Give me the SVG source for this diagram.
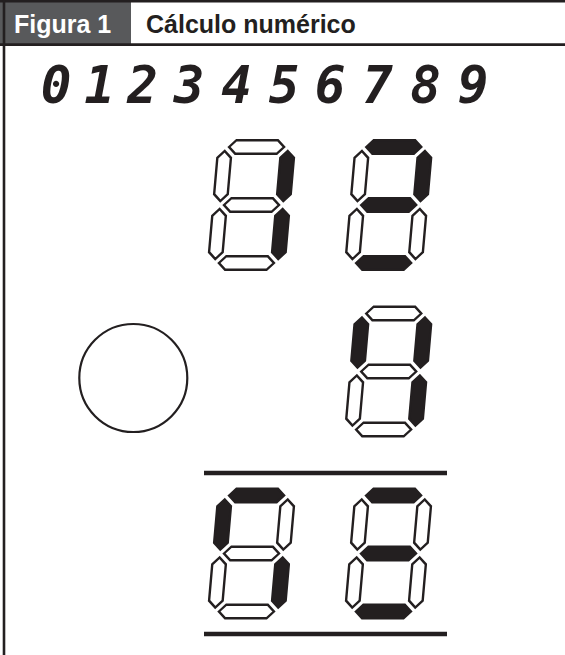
<svg xmlns="http://www.w3.org/2000/svg" xmlns:xlink="http://www.w3.org/1999/xlink" width="565" height="655" viewBox="0 0 565 655">
<style>
.seg{stroke:#231f20;stroke-width:2.4;stroke-linejoin:miter}
.on{fill:#231f20}
.off{fill:#ffffff}
.hd{font-family:"Liberation Sans",Arial,sans-serif;font-weight:bold;font-size:25px}
.dg{font-family:"DejaVu Sans Mono","Liberation Mono",monospace;font-weight:bold;font-style:italic;font-size:51px;fill:#231f20;text-anchor:middle}
.rule{stroke:#231f20;stroke-width:4.5}
</style>
<defs>
<polygon id="h" class="seg" points="-27.5,0 -20.7,-6.8 20.7,-6.8 27.5,0 20.7,6.8 -20.7,6.8"/>
<polygon id="v" class="seg" points="0,-25 6.8,-18.2 6.8,18.2 0,25 -6.8,18.2 -6.8,-18.2"/>
</defs>
<rect width="565" height="655" fill="#ffffff"/>
<g id="header">
<rect x="0" y="0" width="131" height="45" fill="#58595b"/>
<line x1="0" y1="1.2" x2="565" y2="1.2" stroke="#231f20" stroke-width="2.4"/>
<line x1="0" y1="44.7" x2="565" y2="44.7" stroke="#231f20" stroke-width="2.7"/>
<line x1="4" y1="0" x2="4" y2="655" stroke="#231f20" stroke-width="2.6"/>
<text class="hd" x="14" y="33" fill="#ffffff">Figura 1</text>
<text class="hd" x="146" y="33" fill="#231f20">Cálculo numérico</text>
</g>
<g id="digits">
<text class="dg" x="56" y="103">0</text>
<text class="dg" x="99.5" y="103">1</text>
<text class="dg" x="142.5" y="103">2</text>
<text class="dg" x="189" y="103">3</text>
<text class="dg" x="236.5" y="103">4</text>
<text class="dg" x="284" y="103">5</text>
<text class="dg" x="330" y="103">6</text>
<text class="dg" x="377.5" y="103">7</text>
<text class="dg" x="425.5" y="103">8</text>
<text class="dg" x="473" y="103">9</text>
</g>
<g id="display1" transform="translate(251.5,205) skewX(-5)">
<use xlink:href="#h" y="-58" class="off"/>
<use xlink:href="#v" x="-31.5" y="-29" class="off"/>
<use xlink:href="#v" x="31.5" y="-29" class="on"/>
<use xlink:href="#h" class="off"/>
<use xlink:href="#v" x="-31.5" y="29" class="off"/>
<use xlink:href="#v" x="31.5" y="29" class="on"/>
<use xlink:href="#h" y="58" class="off"/>
</g>
<g id="display2" transform="translate(388.7,205) skewX(-5)">
<use xlink:href="#h" y="-58" class="on"/>
<use xlink:href="#v" x="-31.5" y="-29" class="off"/>
<use xlink:href="#v" x="31.5" y="-29" class="on"/>
<use xlink:href="#h" class="on"/>
<use xlink:href="#v" x="-31.5" y="29" class="off"/>
<use xlink:href="#v" x="31.5" y="29" class="off"/>
<use xlink:href="#h" y="58" class="on"/>
</g>
<g id="circle">
<circle cx="133.3" cy="378" r="54" fill="none" stroke="#231f20" stroke-width="2.2"/>
</g>
<g id="display3" transform="translate(388.7,371.5) skewX(-5)">
<use xlink:href="#h" y="-58" class="off"/>
<use xlink:href="#v" x="-31.5" y="-29" class="on"/>
<use xlink:href="#v" x="31.5" y="-29" class="on"/>
<use xlink:href="#h" class="off"/>
<use xlink:href="#v" x="-31.5" y="29" class="off"/>
<use xlink:href="#v" x="31.5" y="29" class="on"/>
<use xlink:href="#h" y="58" class="off"/>
</g>
<g id="rules">
<line class="rule" x1="204" y1="473" x2="447" y2="473"/>
<line class="rule" x1="204" y1="634" x2="447" y2="634"/>
</g>
<g id="display4" transform="translate(251.5,553.5) skewX(-5)">
<use xlink:href="#h" y="-58" class="on"/>
<use xlink:href="#v" x="-31.5" y="-29" class="on"/>
<use xlink:href="#v" x="31.5" y="-29" class="off"/>
<use xlink:href="#h" class="off"/>
<use xlink:href="#v" x="-31.5" y="29" class="off"/>
<use xlink:href="#v" x="31.5" y="29" class="on"/>
<use xlink:href="#h" y="58" class="off"/>
</g>
<g id="display5" transform="translate(388.5,553.5) skewX(-5)">
<use xlink:href="#h" y="-58" class="on"/>
<use xlink:href="#v" x="-31.5" y="-29" class="off"/>
<use xlink:href="#v" x="31.5" y="-29" class="off"/>
<use xlink:href="#h" class="on"/>
<use xlink:href="#v" x="-31.5" y="29" class="off"/>
<use xlink:href="#v" x="31.5" y="29" class="off"/>
<use xlink:href="#h" y="58" class="on"/>
</g>
</svg>
